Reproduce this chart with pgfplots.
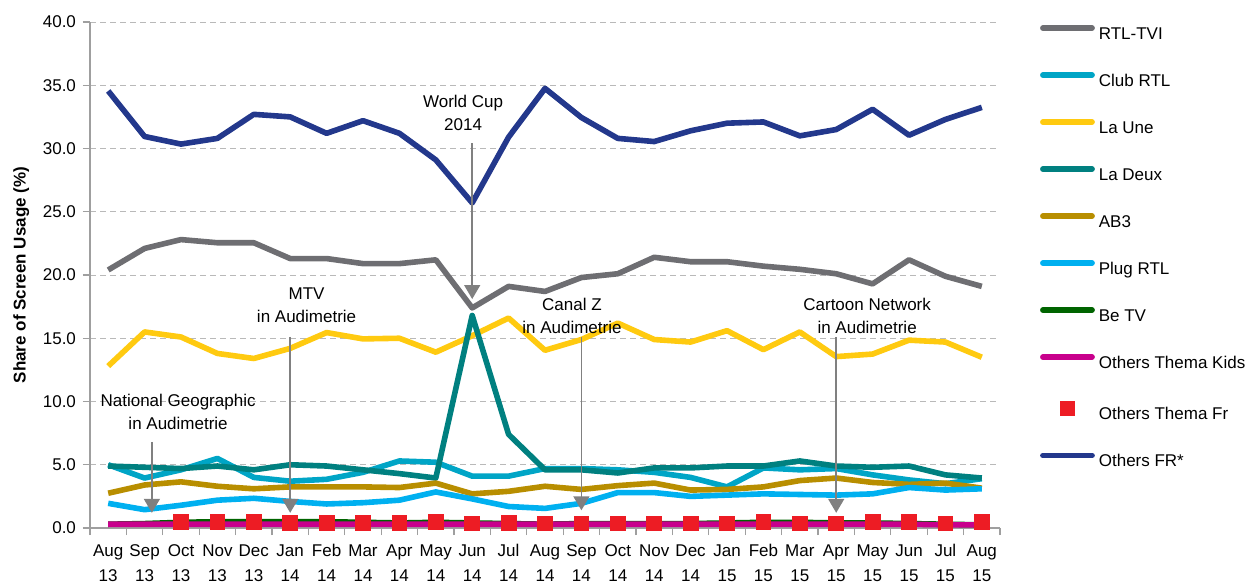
\documentclass[border=0pt]{standalone}
\usepackage{pgfplots}
\pgfplotsset{compat=1.18}
\usepackage{fontspec}
\setmainfont{Liberation Sans}
\usetikzlibrary{arrows.meta}

\definecolor{rtltvi}{RGB}{110,110,114}
\definecolor{clubrtl}{RGB}{0,165,198}
\definecolor{laune}{RGB}{255,202,16}
\definecolor{ladeux}{RGB}{0,128,128}
\definecolor{abtrois}{RGB}{184,142,0}
\definecolor{plugrtl}{RGB}{0,176,240}
\definecolor{betv}{RGB}{0,100,0}
\definecolor{kids}{RGB}{200,0,140}
\definecolor{themafr}{RGB}{237,28,36}
\definecolor{othersfr}{RGB}{35,56,140}
\definecolor{arrowgray}{RGB}{128,128,128}

\begin{document}
\begin{tikzpicture}[font=\fontsize{8.5}{11.5}\selectfont]
\useasboundingbox (-45pt,-28.5pt) rectangle (583pt,264pt);
\begin{axis}[
    scale only axis, width=455pt, height=253pt,
    at={(0,0)}, anchor=south west,
    xmin=-0.5, xmax=24.5,
    ymin=0, ymax=40,
    axis x line*=bottom, axis y line*=left,
    axis line style={draw=gray!75, line width=0.6pt},
    tick style={gray!75, line width=0.6pt},
    tick align=outside,
    major tick length=3.5pt, minor tick length=3.5pt,
    major x tick style={draw=none},
    xtick={0,...,24},
    minor xtick={-0.5,0.5,...,24.5},
    xticklabels={{\strut Aug\\13},{\strut Sep\\13},{\strut Oct\\13},{\strut Nov\\13},{\strut Dec\\13},{\strut Jan\\14},{\strut Feb\\14},{\strut Mar\\14},{\strut Apr\\14},{\strut May\\14},{\strut Jun\\14},{\strut Jul\\14},{\strut Aug\\14},{\strut Sep\\14},{\strut Oct\\14},{\strut Nov\\14},{\strut Dec\\14},{\strut Jan\\15},{\strut Feb\\15},{\strut Mar\\15},{\strut Apr\\15},{\strut May\\15},{\strut Jun\\15},{\strut Jul\\15},{\strut Aug\\15}},
    xticklabel style={align=center, font=\fontsize{8.5}{12.7}\selectfont, inner ysep=1.5pt},
    ytick={0,5,...,40},
    yticklabel style={/pgf/number format/fixed, /pgf/number format/fixed zerofill, /pgf/number format/precision=1},
    /pgf/number format/assume math mode=true,
    ymajorgrids=true,
    grid style={densely dashed, gray!55, line width=0.4pt},
    ylabel={\bfseries Share of Screen Usage (\%)},
    legend cell align=left,
    legend image code/.code={\draw[mark repeat=2,mark phase=2,#1,line cap=round] plot coordinates {(1.4pt,3pt)(13.7pt,3pt)(26pt,3pt)};},
    legend style={at={(1.044,0.994)}, anchor=north west, draw=none, fill=none,
        inner sep=0pt, outer sep=0pt, row sep=14.5pt, column sep=2pt,
        nodes={inner sep=0pt, text height=7pt, text depth=2pt}},
    every axis plot/.append style={line width=2.8pt, mark=none, line join=round},
]

\addplot[color=rtltvi] coordinates {
(0,20.4)(1,22.1)(2,22.8)(3,22.55)(4,22.55)(5,21.3)(6,21.3)(7,20.9)(8,20.9)(9,21.2)(10,17.4)(11,19.1)(12,18.7)
(13,19.8)(14,20.1)(15,21.4)(16,21.05)(17,21.05)(18,20.7)(19,20.45)(20,20.1)(21,19.3)(22,21.2)(23,19.9)(24,19.1)};
\addlegendentry{RTL-TVI}

\addplot[color=clubrtl] coordinates {
(0,5.0)(1,3.95)(2,4.6)(3,5.5)(4,4.0)(5,3.7)(6,3.85)(7,4.4)(8,5.3)(9,5.2)(10,4.1)(11,4.1)(12,4.7)
(13,4.7)(14,4.6)(15,4.4)(16,4.0)(17,3.25)(18,4.75)(19,4.6)(20,4.7)(21,4.2)(22,3.8)(23,3.5)(24,3.9)};
\addlegendentry{Club RTL}

\addplot[color=laune] coordinates {
(0,12.8)(1,15.5)(2,15.1)(3,13.8)(4,13.4)(5,14.2)(6,15.45)(7,14.95)(8,15.0)(9,13.9)(10,15.2)(11,16.6)(12,14.05)
(13,14.9)(14,16.2)(15,14.9)(16,14.7)(17,15.6)(18,14.1)(19,15.5)(20,13.55)(21,13.75)(22,14.85)(23,14.7)(24,13.5)};
\addlegendentry{La Une}

\addplot[color=ladeux] coordinates {
(0,4.9)(1,4.8)(2,4.7)(3,4.9)(4,4.6)(5,5.0)(6,4.9)(7,4.6)(8,4.3)(9,3.95)(10,16.8)(11,7.4)(12,4.6)
(13,4.6)(14,4.35)(15,4.75)(16,4.75)(17,4.9)(18,4.9)(19,5.3)(20,4.9)(21,4.8)(22,4.9)(23,4.2)(24,3.95)};
\addlegendentry{La Deux}

\addplot[color=abtrois] coordinates {
(0,2.75)(1,3.4)(2,3.65)(3,3.3)(4,3.1)(5,3.25)(6,3.25)(7,3.25)(8,3.2)(9,3.55)(10,2.7)(11,2.9)(12,3.3)
(13,3.05)(14,3.35)(15,3.55)(16,3.0)(17,3.05)(18,3.25)(19,3.75)(20,3.95)(21,3.6)(22,3.45)(23,3.55)(24,3.15)};
\addlegendentry{AB3}

\addplot[color=plugrtl] coordinates {
(0,1.95)(1,1.45)(2,1.8)(3,2.2)(4,2.35)(5,2.1)(6,1.9)(7,2.0)(8,2.2)(9,2.85)(10,2.3)(11,1.7)(12,1.55)
(13,1.95)(14,2.8)(15,2.8)(16,2.5)(17,2.6)(18,2.7)(19,2.65)(20,2.6)(21,2.7)(22,3.2)(23,3.0)(24,3.1)};
\addlegendentry{Plug RTL}

\addplot[color=betv] coordinates {
(0,0.3)(1,0.35)(2,0.45)(3,0.5)(4,0.5)(5,0.5)(6,0.5)(7,0.45)(8,0.4)(9,0.45)(10,0.4)(11,0.35)(12,0.3)
(13,0.35)(14,0.35)(15,0.35)(16,0.35)(17,0.4)(18,0.45)(19,0.45)(20,0.4)(21,0.4)(22,0.35)(23,0.3)(24,0.25)};
\addlegendentry{Be TV}

\addplot[color=kids] coordinates {
(0,0.3)(1,0.3)(2,0.3)(3,0.3)(4,0.3)(5,0.3)(6,0.3)(7,0.3)(8,0.3)(9,0.3)(10,0.3)(11,0.3)(12,0.3)
(13,0.3)(14,0.3)(15,0.3)(16,0.3)(17,0.3)(18,0.3)(19,0.3)(20,0.3)(21,0.3)(22,0.3)(23,0.25)(24,0.25)};
\addlegendentry{Others Thema Kids}

\addplot[only marks, mark=square*, mark size=3.7pt, color=themafr,
    mark options={draw=none, fill=themafr, line width=0pt, line join=miter}] coordinates {
(2,0.5)(3,0.5)(4,0.5)(5,0.4)(6,0.4)(7,0.4)(8,0.4)(9,0.5)(10,0.35)(11,0.4)(12,0.35)
(13,0.35)(14,0.35)(15,0.35)(16,0.35)(17,0.35)(18,0.5)(19,0.35)(20,0.35)(21,0.45)(22,0.45)(23,0.35)(24,0.45)};
\addlegendentry{Others Thema Fr}

\addplot[color=othersfr] coordinates {
(0,34.55)(1,30.95)(2,30.35)(3,30.8)(4,32.7)(5,32.5)(6,31.2)(7,32.2)(8,31.2)(9,29.1)(10,25.7)(11,30.9)(12,34.75)
(13,32.45)(14,30.8)(15,30.55)(16,31.4)(17,32.0)(18,32.1)(19,31.0)(20,31.5)(21,33.1)(22,31.05)(23,32.3)(24,33.25)};
\addlegendentry{Others FR*}

% annotations
\begin{scope}[arrowgray, line width=0.8pt, -{Triangle[width=8pt,length=7pt]}]
\draw (axis cs:10,30.4) -- (axis cs:10,18.1);
\draw (axis cs:5,15.1) -- (axis cs:5,1.2);
\draw (axis cs:1.2,6.8) -- (axis cs:1.2,1.2);
\draw (axis cs:13,15.1) -- (axis cs:13,1.4);
\draw (axis cs:20,15.1) -- (axis cs:20,1.2);
\end{scope}
\node[align=center, text=black] at (axis cs:9.75,32.8) {World Cup\\2014};
\node[align=center, text=black] at (axis cs:5.45,17.6) {MTV\\in Audimetrie};
\node[align=center, text=black] at (axis cs:1.92,9.2) {National Geographic\\in Audimetrie};
\node[align=center, text=black] at (axis cs:12.74,16.8) {Canal Z\\in Audimetrie};
\node[align=center, text=black] at (axis cs:20.85,16.8) {Cartoon Network\\in Audimetrie};
\end{axis}
\end{tikzpicture}
\end{document}
